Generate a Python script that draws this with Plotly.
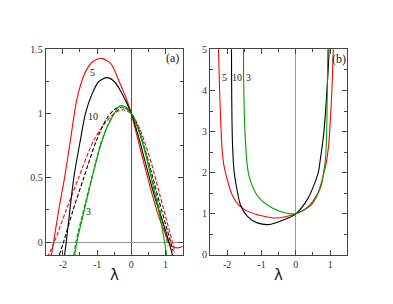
import plotly.graph_objects as go

# ---------------- Panel (a) data ----------------
a_red_x = [-2.4, -2.27, -2.1, -1.95, -1.78, -1.6, -1.45, -1.29, -1.1, -0.87, -0.6, -0.34, -0.15, 0.0, 0.2, 0.4, 0.6, 0.8, 1.0, 1.12, 1.25, 1.36, 1.5]
a_red_y = [-0.2, 0.0, 0.28, 0.5, 0.79, 1.1, 1.25, 1.35, 1.41, 1.43, 1.39, 1.24, 1.12, 1.0, 0.79, 0.58, 0.38, 0.2, 0.06, -0.017, -0.04, -0.045, -0.035]

a_blk_x = [-2.0, -1.9, -1.68, -1.49, -1.34, -1.15, -0.95, -0.71, -0.5, -0.3, -0.15, 0.0, 0.2, 0.4, 0.6, 0.8, 1.0, 1.1, 1.2, 1.25]
a_blk_y = [-0.2, 0.0, 0.5, 0.79, 1.0, 1.15, 1.25, 1.28, 1.25, 1.17, 1.09, 1.0, 0.83, 0.63, 0.43, 0.25, 0.09, 0.0, -0.1, -0.16]

a_grn_x = [-1.65, -1.59, -1.3, -1.1, -0.9, -0.7, -0.5, -0.34, -0.15, 0.0, 0.2, 0.4, 0.6, 0.8, 0.97, 1.03]
a_grn_y = [-0.1, 0.0, 0.33, 0.55, 0.75, 0.9, 1.0, 1.06, 1.05, 1.0, 0.88, 0.7, 0.48, 0.25, 0.0, -0.1]

a_red_d_x = [-2.45, -2.25, -1.9, -1.54, -1.1, -0.73, -0.45, -0.24, 0.0, 0.2, 0.4, 0.6, 0.8, 1.0, 1.2, 1.27]
a_red_d_y = [-0.12, 0.0, 0.25, 0.5, 0.79, 0.94, 1.01, 1.03, 1.0, 0.91, 0.77, 0.6, 0.4, 0.2, 0.0, -0.08]

a_blk_d_x = [-2.1, -1.98, -1.7, -1.39, -1.02, -0.7, -0.45, -0.3, -0.15, 0.0, 0.2, 0.4, 0.6, 0.8, 1.0, 1.15, 1.22]
a_blk_d_y = [-0.1, 0.0, 0.25, 0.5, 0.79, 0.97, 1.04, 1.05, 1.04, 1.0, 0.89, 0.72, 0.53, 0.33, 0.14, 0.0, -0.07]

a_grn_d_x = [-1.68, -1.62, -1.3, -1.1, -0.9, -0.7, -0.5, -0.3, -0.15, 0.0, 0.2, 0.4, 0.6, 0.8, 1.0, 1.07]
a_grn_d_y = [-0.1, 0.0, 0.35, 0.56, 0.76, 0.9, 1.0, 1.045, 1.04, 1.0, 0.89, 0.72, 0.51, 0.29, 0.06, -0.03]

# ---------------- Panel (b) data ----------------
b_red_x = [-2.26, -2.22, -2.18, -2.15, -2.1, -2.0, -1.85, -1.66, -1.4, -1.12, -0.63, -0.3, 0.0, 0.35, 0.65, 0.84, 0.9, 0.96, 1.0, 1.04, 1.07, 1.1]
b_red_y = [5.2, 4.0, 3.1, 2.6, 2.2, 1.84, 1.45, 1.21, 1.06, 0.98, 0.9, 0.93, 1.0, 1.17, 1.52, 2.07, 2.3, 2.7, 3.2, 3.8, 4.4, 5.2]

b_blk_x = [-1.875, -1.87, -1.86, -1.84, -1.8, -1.75, -1.61, -1.41, -1.12, -0.77, -0.33, 0.0, 0.35, 0.65, 0.71, 0.82, 0.89, 0.95, 0.975]
b_blk_y = [5.2, 4.2, 3.3, 2.6, 2.05, 1.76, 1.21, 0.94, 0.78, 0.74, 0.86, 1.0, 1.37, 1.99, 2.3, 3.0, 3.8, 4.6, 5.2]

b_grn_x = [-1.525, -1.52, -1.5, -1.47, -1.43, -1.36, -1.12, -0.82, -0.43, -0.14, 0.0, 0.45, 0.74, 0.8, 0.86, 0.89, 0.91, 0.935]
b_grn_y = [5.2, 4.3, 3.4, 2.8, 2.3, 1.91, 1.44, 1.21, 1.05, 1.0, 1.0, 1.21, 1.68, 1.95, 2.3, 2.7, 3.5, 5.2]

# ---------------- tick labels ----------------
x_tickvals = [-2, -1, 0, 1]
x_ticktext = ["-2", "-1", "0", "1"]
a_y_tickvals = [0, 0.5, 1, 1.5]
a_y_ticktext = ["0", "0.5", "1", "1.5"]
b_y_tickvals = [0, 1, 2, 3, 4, 5]
b_y_ticktext = ["0", "1", "2", "3", "4", "5"]

RED = "#ff0000"
BLK = "#000000"
GRN = "#00a000"
LW = 1.1
DASH = "4px,2px"

fig = go.Figure()

def add(x, y, color, dash, xa, ya):
    fig.add_trace(go.Scatter(x=x, y=y, mode="lines", xaxis=xa, yaxis=ya,
                             line=dict(color=color, width=LW, dash=dash, shape="spline", smoothing=0.8),
                             showlegend=False, hoverinfo="skip"))

add(a_red_d_x, a_red_d_y, RED, DASH, "x", "y")
add(a_blk_d_x, a_blk_d_y, BLK, DASH, "x", "y")
add(a_grn_d_x, a_grn_d_y, GRN, DASH, "x", "y")
add(a_red_x, a_red_y, RED, "solid", "x", "y")
add(a_blk_x, a_blk_y, BLK, "solid", "x", "y")
add(a_grn_x, a_grn_y, GRN, "solid", "x", "y")

add(b_red_x, b_red_y, RED, "solid", "x2", "y2")
add(b_blk_x, b_blk_y, BLK, "solid", "x2", "y2")
add(b_grn_x, b_grn_y, GRN, "solid", "x2", "y2")

FONT = "Liberation Serif, Times New Roman, serif"
tickfont = dict(family=FONT, size=10, color="#333333")

common_ax = dict(showgrid=False, showline=True, linecolor="#444444", linewidth=1,
                 mirror="ticks", ticks="inside", ticklen=5, tickcolor="#444444",
                 tickfont=tickfont)

fig.update_layout(
    width=393, height=304,
    margin=dict(l=0, r=0, t=0, b=0),
    paper_bgcolor="white", plot_bgcolor="white",
    xaxis=dict(domain=[45.7/393, 182.7/393], range=[-2.5, 1.5], tickvals=x_tickvals, ticktext=x_ticktext,
               zeroline=True, zerolinecolor="#555555", zerolinewidth=1,
               minor=dict(ticks="inside", ticklen=3, dtick=0.5, tick0=0, tickcolor="#444444"),
               anchor="y", **common_ax),
    yaxis=dict(domain=[1-258.3/304, 1-45/304], range=[-0.1, 1.5], tickvals=a_y_tickvals, ticktext=a_y_ticktext,
               zeroline=True, zerolinecolor="#999999", zerolinewidth=1,
               minor=dict(ticks="inside", ticklen=3, dtick=0.25, tick0=0, tickcolor="#444444"),
               anchor="x", **common_ax),
    xaxis2=dict(domain=[210/393, 347.3/393], range=[-2.5, 1.5], tickvals=x_tickvals, ticktext=x_ticktext,
                zeroline=True, zerolinecolor="#999999", zerolinewidth=1,
                minor=dict(ticks="inside", ticklen=3, dtick=0.5, tick0=0, tickcolor="#444444"),
                anchor="y2", **common_ax),
    yaxis2=dict(domain=[1-258.3/304, 1-45/304], range=[0, 5], tickvals=b_y_tickvals, ticktext=b_y_ticktext,
                zeroline=False,
                minor=dict(ticks="inside", ticklen=3, dtick=0.5, tick0=0, tickcolor="#444444"),
                anchor="x2", **common_ax),
)

lab = dict(family=FONT, size=10, color="#222222")
ann = [
    dict(x=-1.14, y=1.32, xref="x", yref="y", text="5", showarrow=False, font=lab),
    dict(x=-1.12, y=0.98, xref="x", yref="y", text="10", showarrow=False, font=lab),
    dict(x=-1.26, y=0.24, xref="x", yref="y", text="3", showarrow=False, font=lab),
    dict(x=1.21, y=1.43, xref="x", yref="y", text="(a)", showarrow=False, font=dict(family=FONT, size=12, color="#222222")),
    dict(x=-2.09, y=4.32, xref="x2", yref="y2", text="5", showarrow=False, font=lab),
    dict(x=-1.72, y=4.32, xref="x2", yref="y2", text="10", showarrow=False, font=lab),
    dict(x=-1.37, y=4.32, xref="x2", yref="y2", text="3", showarrow=False, font=lab),
    dict(x=1.27, y=4.77, xref="x2", yref="y2", text="(b)", showarrow=False, font=dict(family=FONT, size=12, color="#222222")),
    dict(x=114/393, y=1-279/304, xref="paper", yref="paper", text="λ", showarrow=False,
         xanchor="center", yanchor="middle",
         font=dict(family="DejaVu Sans", size=15, color="#222222")),
    dict(x=278.7/393, y=1-279/304, xref="paper", yref="paper", text="λ", showarrow=False,
         xanchor="center", yanchor="middle",
         font=dict(family="DejaVu Sans", size=15, color="#222222")),
]
fig.update_layout(annotations=ann)

fig.write_html("out.html", config={"displayModeBar": False},
               post_script="document.body.style.margin='0';document.body.style.padding='0';document.body.style.overflow='hidden';")
